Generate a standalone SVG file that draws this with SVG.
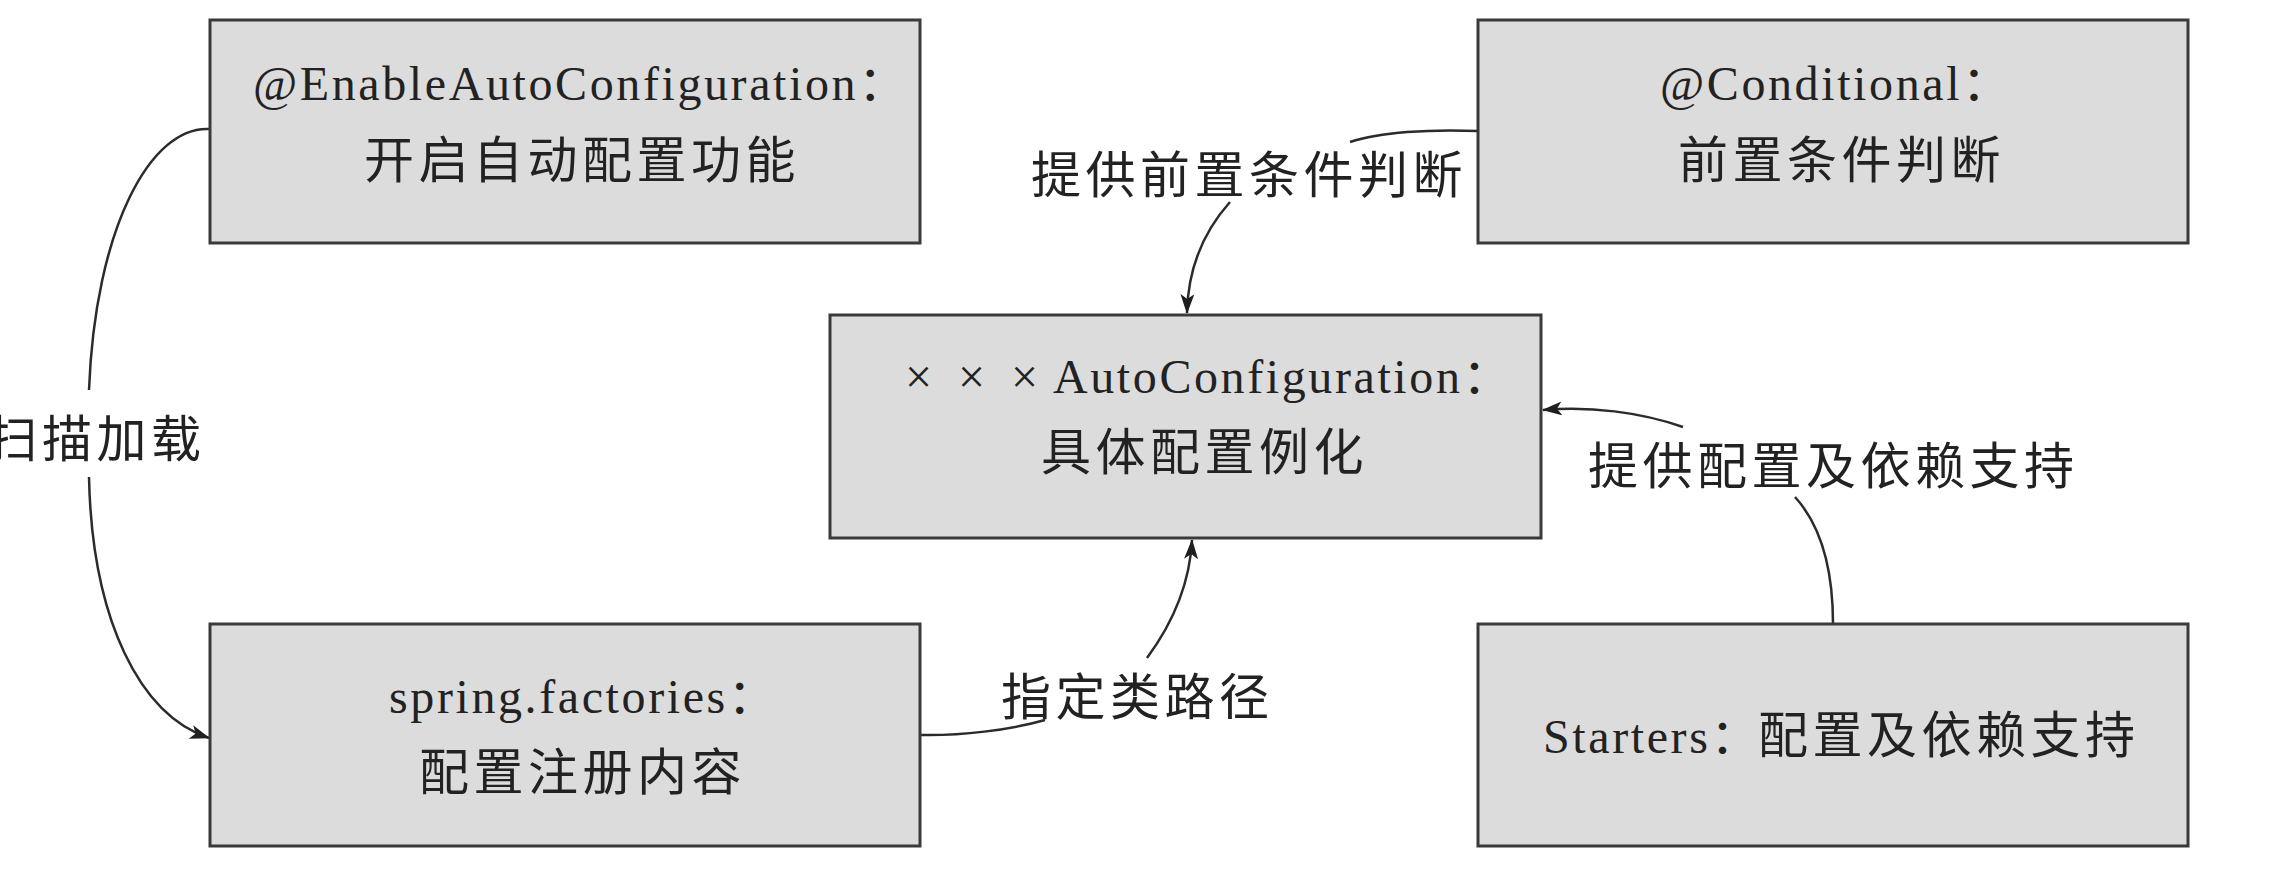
<svg xmlns="http://www.w3.org/2000/svg" width="2274" height="876" viewBox="0 0 2274 876">
<style>
.box{fill:#dcdcdc;stroke:#3a3a3a;stroke-width:3}
.lat{font-family:"Liberation Serif","Noto Sans CJK SC",serif;font-size:48px;letter-spacing:2.6px;fill:#222}
.cjk{font-family:"Noto Sans CJK SC","Noto Sans CJK TC",sans-serif;font-size:50px;letter-spacing:4.5px;fill:#222}
.edge{fill:none;stroke:#2b2b2b;stroke-width:2.5}
</style>
<defs>
<marker id="arr" viewBox="0 0 20 14" refX="19" refY="7" markerWidth="20" markerHeight="14" markerUnits="userSpaceOnUse" orient="auto">
<path d="M0,0 L20,7 L0,14 L5,7 z" fill="#1f1f1f"/>
</marker>
</defs>
<rect width="2274" height="876" fill="#ffffff"/>
<g id="connectors">
<path class="edge" d="M210,129 C150,125 95,230 89,390"/>
<path class="edge" d="M89,477 C92,620 140,715 209,738" marker-end="url(#arr)"/>
<text class="cjk" x="-12.5" y="457">扫描加载</text>
<path class="edge" d="M1478,131 C1430,129 1380,132 1350,142"/>
<path class="edge" d="M1230,202 C1205,230 1188,265 1187,313" marker-end="url(#arr)"/>
<text class="cjk" x="1031" y="193">提供前置条件判断</text>
<path class="edge" d="M1795,497 C1825,530 1833,580 1833,624"/>
<path class="edge" d="M1683,427 C1640,412 1590,406 1543,410" marker-end="url(#arr)"/>
<text class="cjk" x="1588" y="484">提供配置及依赖支持</text>
<path class="edge" d="M920,735 C960,736 1010,730 1045,720"/>
<path class="edge" d="M1147,658 C1175,620 1190,580 1192,540" marker-end="url(#arr)"/>
<text class="cjk" x="1001" y="715">指定类路径</text>
</g>
<g id="enable">
<rect class="box" x="210" y="20" width="710" height="223"/>
<text class="lat" x="253" y="100">@EnableAutoConfiguration：</text>
<text class="cjk" x="364" y="178">开启自动配置功能</text>
</g>
<g id="conditional">
<rect class="box" x="1478" y="20" width="710" height="223"/>
<text class="lat" x="1660" y="100">@Conditional：</text>
<text class="cjk" x="1678" y="178">前置条件判断</text>
</g>
<g id="autoconfig">
<rect class="box" x="830" y="315" width="711" height="223"/>
<text class="lat" y="393"><tspan x="905 931 958 984 1011">× × ×</tspan><tspan x="1053">AutoConfiguration：</tspan></text>
<text class="cjk" x="1041" y="470">具体配置例化</text>
</g>
<g id="factories">
<rect class="box" x="210" y="624" width="710" height="222"/>
<text class="lat" x="389" y="713">spring.factories：</text>
<text class="cjk" x="419" y="790">配置注册内容</text>
</g>
<g id="starters">
<rect class="box" x="1478" y="624" width="710" height="222"/>
<text y="753"><tspan class="lat" x="1543">Starters：</tspan><tspan class="cjk" x="1758">配置及依赖支持</tspan></text>
</g>
</svg>
